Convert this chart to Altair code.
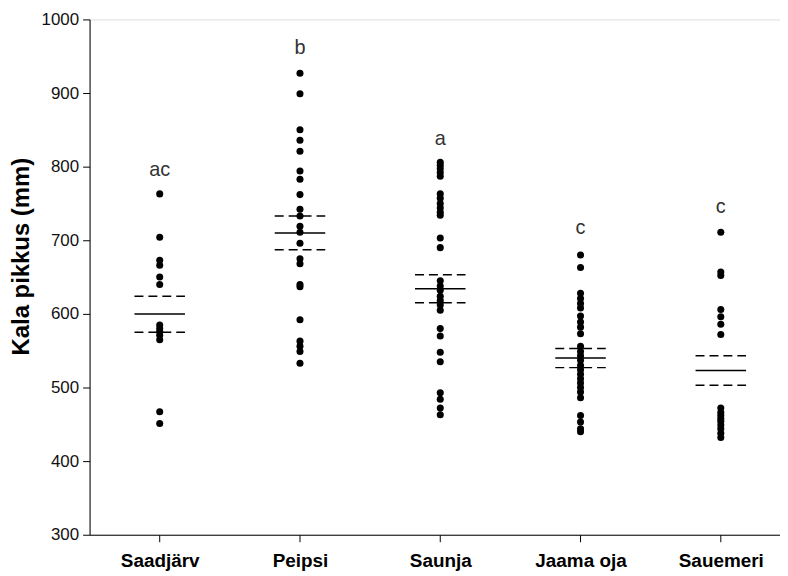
import json
import altair as alt
import pandas as pd

categories = ["Saadjärv", "Peipsi", "Saunja", "Jaama oja", "Sauemeri"]

saadjarv = [763, 704, 673, 666, 650, 640, 585, 580, 576, 571, 565, 467, 451]
peipsi = [927, 899, 850, 836, 821, 794, 783, 762, 742, 733, 719, 711, 696, 675,
          668, 640, 637, 592, 563, 556, 549, 533]
saunja = [806, 802, 797, 792, 787, 763, 757, 750, 744, 738, 734, 703, 690, 645,
          638, 632, 624, 618, 612, 605, 580, 570, 548, 535, 493, 484, 472, 463]
jaama_oja = [680, 663, 628, 621, 614, 608, 597, 589, 582, 573, 556, 549, 543,
             537, 530, 524, 518, 512, 506, 500, 494, 486, 462, 453, 444, 440]
sauemeri = [711, 657, 652, 606, 596, 586, 572, 472, 466, 462, 458, 454, 449,
            444, 438, 432]

means = [600, 710, 634, 540, 523]
upper = [624, 733, 653, 553, 543]
lower = [575, 687, 615, 527, 503]

letters = ["ac", "b", "a", "c", "c"]
letter_y = [795, 961, 838, 716, 745]

series = [saadjarv, peipsi, saunja, jaama_oja, sauemeri]

pts = pd.DataFrame(
    [{"idx": i + 1, "group": categories[i], "value": v}
     for i, s in enumerate(series) for v in s]
)
HW = 0.18
summ = pd.DataFrame({
    "idx": [i + 1 for i in range(5)],
    "lo_x": [i + 1 - HW for i in range(5)],
    "hi_x": [i + 1 + HW for i in range(5)],
    "mean": means,
    "upper": upper,
    "lower": lower,
    "letter": letters,
    "ly": letter_y,
})

label_expr = json.dumps(categories) + "[datum.value - 1]"

xscale = alt.Scale(domain=[0.5, 5.422], nice=False, zero=False)
yscale = alt.Scale(domain=[300, 1000], nice=False, zero=False)

xaxis = alt.Axis(values=[1, 2, 3, 4, 5], labelExpr=label_expr, title=None,
                 grid=False, domainColor="black", tickColor="black", tickSize=7,
                 labelFont="Liberation Sans", labelFontSize=19, labelFontWeight="bold",
                 labelColor="black", labelPadding=10)
yaxis = alt.Axis(values=[300, 400, 500, 600, 700, 800, 900, 1000], format="d",
                 title="Kala pikkus (mm)", grid=False, domainColor="black",
                 tickColor="black", tickSize=7, labelFont="Liberation Sans",
                 labelFontSize=17, labelColor="#111111", labelPadding=4,
                 titleFont="Liberation Sans", titleFontSize=24, titleFontWeight="bold",
                 titleColor="black", titlePadding=8, titleY=238)

points = alt.Chart(pts).mark_circle(size=50, color="black", opacity=1).encode(
    x=alt.X("idx:Q", scale=xscale, axis=xaxis),
    y=alt.Y("value:Q", scale=yscale, axis=yaxis),
)

base = alt.Chart(summ)
mean_rule = base.mark_rule(color="black", strokeWidth=1.5).encode(
    x=alt.X("lo_x:Q", scale=xscale), x2="hi_x:Q", y=alt.Y("mean:Q", scale=yscale)
)
up_rule = base.mark_rule(color="black", strokeWidth=1.5, strokeDash=[9, 5]).encode(
    x=alt.X("lo_x:Q", scale=xscale), x2="hi_x:Q", y=alt.Y("upper:Q", scale=yscale)
)
lo_rule = base.mark_rule(color="black", strokeWidth=1.5, strokeDash=[9, 5]).encode(
    x=alt.X("lo_x:Q", scale=xscale), x2="hi_x:Q", y=alt.Y("lower:Q", scale=yscale)
)
text = base.mark_text(font="Liberation Sans", fontSize=20, color="#333333",
                      baseline="middle", align="center").encode(
    x=alt.X("idx:Q", scale=xscale), y=alt.Y("ly:Q", scale=yscale), text="letter:N"
)

chart = alt.layer(points, mean_rule, up_rule, lo_rule, text).properties(
    width=694, height=518,
    autosize=alt.AutoSizeParams(type="none"),
    padding={"left": 82, "top": 10, "right": 0, "bottom": 40},
).configure_view(stroke=None).configure(background="white")

chart.save("out.html", embed_options={"renderer": "svg", "actions": False})
